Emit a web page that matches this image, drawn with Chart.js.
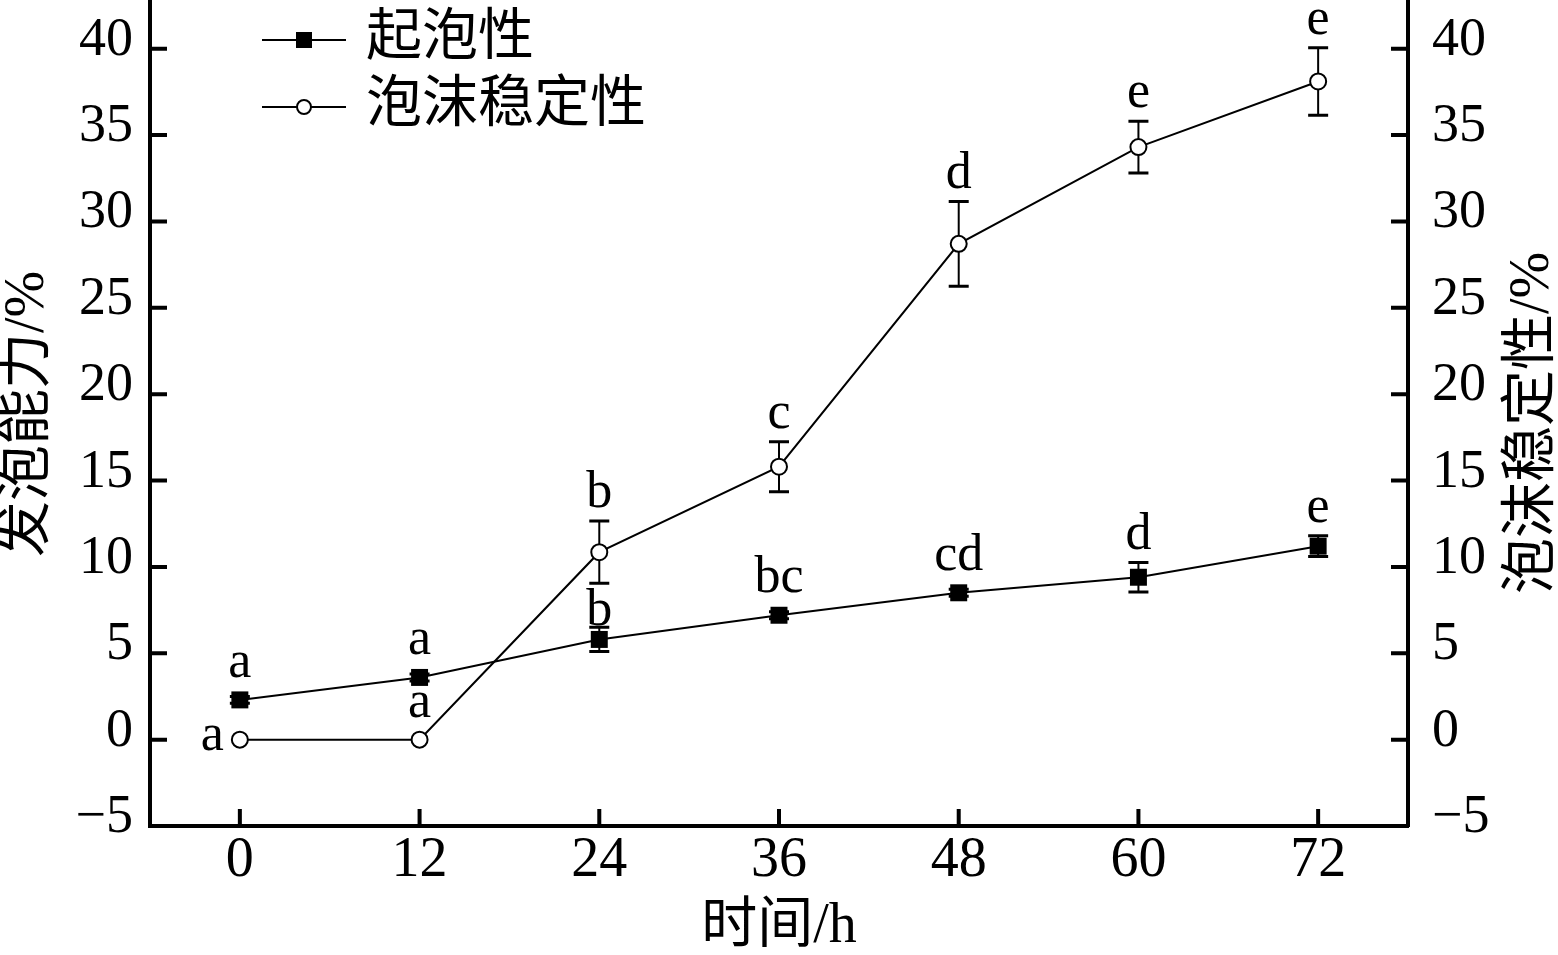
<!DOCTYPE html>
<html><head><meta charset="utf-8">
<script src="https://cdn.jsdelivr.net/npm/chart.js@4/dist/chart.umd.min.js"></script>
<style>html,body{margin:0;padding:0;background:#fff}canvas{display:block}</style>
</head><body>
<canvas id="c" width="1558" height="955"></canvas>
<script>
// ---- data ----
const hours = [0, 12, 24, 36, 48, 60, 72];
const foamability = [2.3, 3.6, 5.8, 7.2, 8.5, 9.4, 11.2];
const foamabilityErr = [0.2, 0.2, 0.7, 0.2, 0.2, 0.85, 0.6];
const foamabilityLetters = ['a', 'a', 'b', 'bc', 'cd', 'd', 'e'];
const stability = [0, 0, 10.85, 15.8, 28.7, 34.3, 38.1];
const stabilityErr = [0, 0, 1.8, 1.45, 2.45, 1.5, 1.95];
const stabilityLetters = ['a', 'a', 'b', 'c', 'd', 'e', 'e'];
const xTicks = [0, 12, 24, 36, 48, 60, 72];
const yTicks = [-5, 0, 5, 10, 15, 20, 25, 30, 35, 40];
const seriesNames = ['起泡性', '泡沫稳定性'];
const xTitle = '时间/h';
const yTitle = '发泡能力/%';
const y2Title = '泡沫稳定性/%';

const FONT_MIX = '"Liberation Serif", "Noto Sans CJK SC", serif';
const tickFont = { family: '"Liberation Serif", serif', size: 54, lineHeight: 0.3 };
const fmt = v => (v < 0 ? '\u2212' + Math.abs(v) : String(v));

const overlay = {
  id: 'overlay',
  beforeDatasetsDraw(chart) {
    const ctx = chart.ctx, a = chart.chartArea;
    const xs = chart.scales.x, ys = chart.scales.y, y2s = chart.scales.y2;
    ctx.save();
    ctx.strokeStyle = '#000';
    ctx.lineWidth = 4;
    ctx.lineCap = 'butt';
    const TL = 17;
    ctx.beginPath();
    xs.ticks.forEach(t => { const p = xs.getPixelForValue(t.value); ctx.moveTo(p, a.bottom); ctx.lineTo(p, a.bottom - TL); });
    ys.ticks.forEach(t => { const p = ys.getPixelForValue(t.value); ctx.moveTo(a.left, p); ctx.lineTo(a.left + TL, p); });
    y2s.ticks.forEach(t => { const p = y2s.getPixelForValue(t.value); ctx.moveTo(a.right, p); ctx.lineTo(a.right - TL, p); });
    ctx.stroke();
    // error bars
    const sets = [[foamability, foamabilityErr, ys], [stability, stabilityErr, y2s]];
    sets.forEach(([vals, errs, sc]) => {
      vals.forEach((v, i) => {
        const e = errs[i];
        if (!e) return;
        const x = xs.getPixelForValue(hours[i]);
        const t = sc.getPixelForValue(v + e), b = sc.getPixelForValue(v - e);
        ctx.lineWidth = 2;
        ctx.beginPath(); ctx.moveTo(x, t); ctx.lineTo(x, b); ctx.stroke();
        ctx.lineWidth = 3;
        ctx.beginPath();
        ctx.moveTo(x - 10, t); ctx.lineTo(x + 10, t);
        ctx.moveTo(x - 10, b); ctx.lineTo(x + 10, b);
        ctx.stroke();
      });
    });
    ctx.restore();
  },
  afterDatasetsDraw(chart) {
    const ctx = chart.ctx;
    const xs = chart.scales.x, ys = chart.scales.y, y2s = chart.scales.y2;
    ctx.save();
    ctx.fillStyle = '#000';
    ctx.font = '52px "Liberation Serif", serif';
    const GAP = 14, H = 36, M = 9;
    // stability letters
    stabilityLetters.forEach((L, i) => {
      const x = xs.getPixelForValue(hours[i]);
      const py = y2s.getPixelForValue(stability[i]);
      if (i === 0) {
        ctx.textAlign = 'right'; ctx.textBaseline = 'alphabetic';
        ctx.fillText(L, x - 16, py + 10);
        return;
      }
      const top = Math.min(py - M, y2s.getPixelForValue(stability[i] + stabilityErr[i]));
      ctx.textAlign = 'center'; ctx.textBaseline = 'alphabetic';
      ctx.fillText(L, x, top - GAP);
    });
    // foamability letters (avoid other series' error bar)
    foamabilityLetters.forEach((L, i) => {
      const x = xs.getPixelForValue(hours[i]);
      const py = ys.getPixelForValue(foamability[i]);
      const top = Math.min(py - M, ys.getPixelForValue(foamability[i] + foamabilityErr[i]));
      let base = top - GAP;
      const oBot = Math.max(y2s.getPixelForValue(stability[i]) + M, y2s.getPixelForValue(stability[i] - stabilityErr[i]));
      const oTop = Math.min(y2s.getPixelForValue(stability[i]) - M, y2s.getPixelForValue(stability[i] + stabilityErr[i]));
      if (base - H < oBot + 2 && base > oTop) base = top - 2;
      ctx.textAlign = 'center'; ctx.textBaseline = 'alphabetic';
      ctx.fillText(L, x, base);
    });
    // legend
    const rows = [40, 107];
    ctx.font = '56px ' + FONT_MIX;
    ctx.textAlign = 'left'; ctx.textBaseline = 'middle';
    chart.data.datasets.forEach((ds, k) => {
      const y = rows[k];
      ctx.strokeStyle = '#000'; ctx.lineWidth = 2;
      ctx.beginPath(); ctx.moveTo(262, y); ctx.lineTo(346, y); ctx.stroke();
      if (ds.pointStyle === 'rect') {
        ctx.fillRect(304 - 8, y - 8, 16, 16);
      } else {
        ctx.fillStyle = '#fff';
        ctx.beginPath(); ctx.arc(304, y, 7, 0, Math.PI * 2); ctx.fill(); ctx.stroke();
        ctx.fillStyle = '#000';
      }
      ctx.fillText(ds.label, 366, y - 1);
    });
    // right axis title (reads bottom-to-top)
    ctx.translate(1533, 423);
    ctx.rotate(-Math.PI / 2);
    ctx.textAlign = 'center'; ctx.textBaseline = 'middle';
    ctx.fillText(y2Title, 0, 0);
    ctx.restore();
  }
};

const yScale = (pos, title) => ({
  type: 'linear', position: pos, min: -5, max: 42.7,
  afterBuildTicks: s => { s.ticks = yTicks.map(v => ({ value: v })); },
  afterFit: s => { s.width = 150; s.paddingTop = 0; s.paddingBottom = 0; },
  grid: { display: false, drawTicks: false },
  border: { display: true, color: '#000', width: 4 },
  ticks: { color: '#000', font: tickFont, padding: pos === 'left' ? 17 : 24, callback: v => [fmt(v), ''] },
  title: title ? { display: true, text: title, color: '#000', font: { family: FONT_MIX, size: 56, lineHeight: 1 }, padding: 0 } : { display: false }
});

new Chart(document.getElementById('c'), {
  type: 'line',
  data: {
    datasets: [
      {
        label: seriesNames[0], yAxisID: 'y',
        data: hours.map((h, i) => ({ x: h, y: foamability[i] })),
        borderColor: '#000', borderWidth: 2, tension: 0,
        pointStyle: 'rect', pointRadius: 12, pointHoverRadius: 12,
        pointBackgroundColor: '#000', pointBorderColor: '#000', pointBorderWidth: 0
      },
      {
        label: seriesNames[1], yAxisID: 'y2',
        data: hours.map((h, i) => ({ x: h, y: stability[i] })),
        borderColor: '#000', borderWidth: 2, tension: 0,
        pointStyle: 'circle', pointRadius: 8, pointHoverRadius: 8,
        pointBackgroundColor: '#fff', pointBorderColor: '#000', pointBorderWidth: 2
      }
    ]
  },
  options: {
    responsive: false, animation: false, devicePixelRatio: 1,
    layout: { autoPadding: false, padding: { top: 2, left: 0, right: 0, bottom: 0 } },
    plugins: { legend: { display: false }, tooltip: { enabled: false } },
    scales: {
      x: {
        type: 'linear', min: -6, max: 78,
        afterBuildTicks: s => { s.ticks = xTicks.map(v => ({ value: v })); },
        afterFit: s => { s.height = 129; s.paddingLeft = 0; s.paddingRight = 0; },
        grid: { display: false, drawTicks: false },
        border: { display: true, color: '#000', width: 4 },
        ticks: { color: '#000', font: { family: '"Liberation Serif", serif', size: 56 }, padding: 2, maxRotation: 0, autoSkip: false, callback: v => fmt(v) },
        title: { display: true, text: xTitle, color: '#000', font: { family: FONT_MIX, size: 56, lineHeight: 1 }, padding: 0 }
      },
      y: yScale('left', yTitle),
      y2: yScale('right', null)
    }
  },
  plugins: [overlay]
});
</script>
</body></html>
